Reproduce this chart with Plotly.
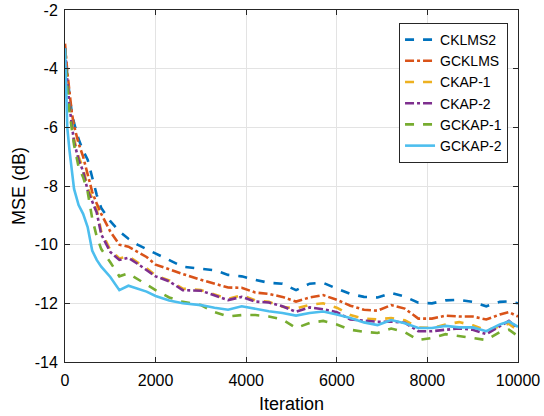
import plotly.graph_objects as go

iterations = [0, 20, 50, 100, 150, 200, 300, 400, 500, 600, 700, 800, 1000, 1200, 1400,
              1600, 1800, 2000, 2300, 2600, 3000, 3300, 3600, 3900, 4200, 4500, 4800,
              5100, 5400, 5700, 6000, 6300, 6600, 6900, 7200, 7500, 7800, 8100, 8400,
              8700, 9000, 9300, 9600, 9800, 10000]

cklms2 = [-3.3, -3.7, -4.2, -4.9, -5.5, -5.85, -6.4, -6.8, -7.1, -7.7, -8.3, -8.75, -9.2,
          -9.55, -9.8, -10.0, -10.15, -10.3, -10.5, -10.75, -10.82, -10.87, -11.03, -11.08,
          -11.2, -11.3, -11.33, -11.55, -11.33, -11.3, -11.5, -11.68, -11.78, -11.8, -11.65,
          -11.77, -11.98, -12.0, -11.9, -11.88, -11.95, -12.1, -11.95, -11.93, -12.0]
gcklms = [-3.15, -3.6, -4.1, -4.8, -5.5, -5.95, -6.55, -7.0, -7.65, -8.2, -8.6, -8.95, -9.55,
          -10.0, -10.07, -10.25, -10.42, -10.68, -10.85, -11.0, -11.2, -11.32, -11.46, -11.47,
          -11.63, -11.68, -11.78, -11.94, -11.8, -11.72, -11.88, -12.08, -12.22, -12.25, -12.06,
          -12.18, -12.52, -12.52, -12.42, -12.45, -12.45, -12.55, -12.38, -12.3, -12.45]
ckap1 = [-3.3, -3.8, -4.3, -5.2, -5.9, -6.4, -7.0, -7.4, -8.05, -8.45, -8.8, -9.55, -10.18,
         -10.47, -10.4, -10.6, -10.8, -11.05, -11.22, -11.5, -11.55, -11.7, -11.85, -11.72,
         -11.9, -11.95, -12.12, -12.18, -12.05, -12.0, -12.15, -12.4, -12.52, -12.55, -12.5,
         -12.58, -12.82, -12.84, -12.72, -12.64, -12.75, -12.92, -12.8, -12.7, -12.92]
ckap2 = [-3.3, -3.8, -4.4, -5.3, -6.0, -6.5, -7.1, -7.5, -8.15, -8.55, -8.9, -9.65, -10.25,
         -10.52, -10.45, -10.65, -10.85, -11.08, -11.25, -11.55, -11.57, -11.73, -11.89, -11.78,
         -11.94, -11.97, -12.1, -12.29, -12.14, -12.2, -12.3, -12.55, -12.6, -12.63, -12.62,
         -12.66, -12.95, -12.95, -12.9, -12.86, -12.9, -13.05, -12.78, -12.6, -12.84]
gckap1 = [-3.35, -3.9, -4.6, -5.5, -6.1, -6.6, -7.35, -7.7, -8.2, -9.1, -9.72, -10.15, -10.6,
          -11.08, -10.98, -11.18, -11.38, -11.55, -11.8, -11.95, -12.06, -12.3, -12.45, -12.4,
          -12.4, -12.45, -12.55, -12.84, -12.67, -12.6, -12.72, -12.9, -12.97, -13.01, -12.86,
          -12.98, -13.25, -13.18, -13.05, -13.12, -13.18, -13.25, -12.98, -12.9, -13.12]
gckap2 = [-3.3, -4.5, -6.0, -6.8, -7.5, -8.1, -8.65, -8.95, -9.4, -10.2, -10.52, -10.75, -11.1,
          -11.55, -11.4, -11.5, -11.6, -11.75, -11.9, -12.0, -12.06, -12.15, -12.22, -12.1,
          -12.19, -12.27, -12.33, -12.42, -12.33, -12.28, -12.38, -12.5, -12.65, -12.74, -12.57,
          -12.68, -12.84, -12.84, -12.77, -12.82, -12.82, -12.95, -12.72, -12.62, -12.8]

series_names = ["CKLMS2", "GCKLMS", "CKAP-1", "CKAP-2", "GCKAP-1", "GCKAP-2"]
series_values = [cklms2, gcklms, ckap1, ckap2, gckap1, gckap2]
colors = ["#0072BD", "#D95319", "#EDB120", "#7E2F8E", "#77AC30", "#4DBEEE"]
dashes = ["dash", "dashdot", "dash", "dashdot", "dash", "solid"]

x_ticks = [0, 2000, 4000, 6000, 8000, 10000]
x_ticktext = ["0", "2000", "4000", "6000", "8000", "10000"]
y_ticks = [-14, -12, -10, -8, -6, -4, -2]
y_ticktext = ["-14", "-12", "-10", "-8", "-6", "-4", "-2"]

fig = go.Figure()
for name, vals, c, d in zip(series_names, series_values, colors, dashes):
    fig.add_trace(go.Scatter(x=iterations, y=vals, mode="lines", name=name,
                             line=dict(color=c, dash=d, width=2.6)))

font_family = "Liberation Sans, Arial, Helvetica, sans-serif"
axis_common = dict(showline=True, linecolor="#262626", linewidth=1, mirror="ticks",
                   ticks="inside", ticklen=5, tickcolor="#262626", automargin=False,
                   showgrid=True, gridcolor="#e3e3e3", gridwidth=1, zeroline=False,
                   tickfont=dict(size=16, color="#000000", family=font_family))

fig.update_layout(
    template="none",
    width=544, height=416,
    margin=dict(l=65, r=26, t=10, b=54, pad=0),
    paper_bgcolor="white", plot_bgcolor="white",
    font=dict(family=font_family, color="#000000"),
    xaxis=dict(range=[0, 10000], tickvals=x_ticks, ticktext=x_ticktext,
               ticklabelstandoff=4,
               title=dict(text="Iteration", font=dict(size=18), standoff=9), **axis_common),
    yaxis=dict(range=[-14, -2], tickvals=y_ticks, ticktext=y_ticktext,
               ticklabelstandoff=3,
               title=dict(text="MSE (dB)", font=dict(size=18), standoff=4), **axis_common),
    legend=dict(x=0.978, y=0.963, xanchor="right", yanchor="top",
                bgcolor="white", bordercolor="#262626", borderwidth=1,
                font=dict(size=14, family=font_family), itemwidth=30,
                tracegroupgap=0),
    showlegend=True,
)

fig.write_html("out.html")
